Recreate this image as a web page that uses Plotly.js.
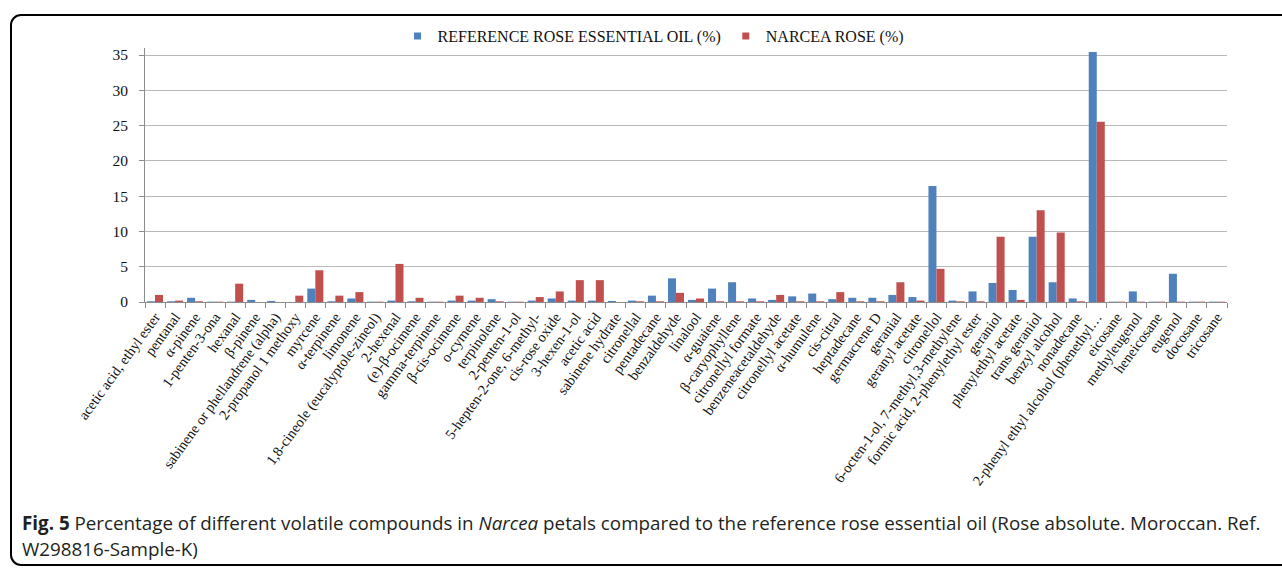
<!DOCTYPE html>
<html>
<head>
<meta charset="utf-8">
<script src="https://cdn.plot.ly/plotly-3.0.1.min.js"></script>
<style>
  html, body { margin: 0; padding: 0; background: #ffffff; overflow: hidden; }
  #frame { position: absolute; left: 10px; top: 14px; width: 1300px; height: 552px;
           border: 2px solid #000; border-radius: 11px; box-sizing: border-box; }
  #chart { position: absolute; left: 0; top: 0; width: 1282px; height: 569px; }
</style>
</head>
<body>
<div id="frame"></div>
<div id="chart"></div>
<script>
const categories = [
  "acetic acid, ethyl ester", "pentanal", "α-pinene", "1-penten-3-ona", "hexanal",
  "β-pinene", "sabinene or phellandrene (alpha)", "2-propanol 1 methoxy", "myrcene", "α-terpinene",
  "limonene", "1,8-cineole (eucalyptole-zineol)", "2-hexenal", "(e)-β-ocimene", "gamma-terpinene",
  "β-cis-ocimene", "o-cymene", "terpinolene", "2-penten-1-ol", "5-hepten-2-one, 6-methyl-",
  "cis-rose oxide", "3-hexen-1-ol", "acetic acid", "sabinene hydrate", "citronellal",
  "pentadecane", "benzaldehyde", "linalool", "α-guaiene", "β-caryophyllene",
  "citronellyl formate", "benzeneacetaldehyde", "citronellyl acetate", "α-humulene", "cis-citral",
  "heptadecane", "germacrene D", "geranial", "geranyl acetate", "citronellol",
  "6-octen-1-ol, 7-methyl,3-methylene", "formic acid, 2-phenylethyl ester", "geraniol", "phenylethyl acetate", "trans geraniol",
  "benzyl alcohol", "nonadecane", "2-phenyl ethyl alcohol (phenethyl…", "eicosane", "methyleugenol",
  "heneicosane", "eugenol", "docosane", "tricosane"
];
const referenceOil = [
  0.1, 0.1, 0.6, 0.05, 0.05,
  0.3, 0.15, 0, 1.9, 0.1,
  0.5, 0.05, 0.2, 0.1, 0.05,
  0.2, 0.2, 0.4, 0.05, 0.2,
  0.5, 0.2, 0.2, 0.15, 0.2,
  0.9, 3.35, 0.3, 1.9, 2.8,
  0.5, 0.3, 0.8, 1.2, 0.4,
  0.6, 0.6, 1.0, 0.7, 16.45,
  0.2, 1.5, 2.7, 1.7, 9.25,
  2.8, 0.5, 35.45, 0.05, 1.5,
  0.05, 4.0, 0.05, 0.05
];
const narceaRose = [
  1.0, 0.2, 0.1, 0.05, 2.6,
  0, 0, 0.9, 4.5, 0.9,
  1.4, 0.05, 5.4, 0.6, 0.05,
  0.9, 0.6, 0.1, 0.05, 0.7,
  1.5, 3.1, 3.1, 0, 0.1,
  0.1, 1.3, 0.5, 0.1, 0.1,
  0.1, 1.0, 0.1, 0.1, 1.4,
  0.1, 0.1, 2.8, 0.2, 4.7,
  0.1, 0.1, 9.25, 0.3, 13.0,
  9.85, 0.1, 25.55, 0.05, 0.05,
  0.05, 0.05, 0.05, 0.05
];
const seriesNames = ["REFERENCE ROSE ESSENTIAL OIL (%)", "NARCEA ROSE (%)"];
const seriesColors = ["#4F81BD", "#C0504D"];
const yTicks = [0, 5, 10, 15, 20, 25, 30, 35];

const serif = "Liberation Serif, Times New Roman, serif";
const captionFont = "Open Sans, sans-serif";

const traces = [
  { type: "bar", name: seriesNames[0], x: categories, y: referenceOil,
    marker: { color: seriesColors[0] }, showlegend: false },
  { type: "bar", name: seriesNames[1], x: categories, y: narceaRose,
    marker: { color: seriesColors[1] }, showlegend: false },
  // legend-only entries with small square swatches
  { type: "scatter", mode: "markers", name: seriesNames[0], x: [null], y: [null],
    marker: { symbol: "square", size: 7, color: seriesColors[0] }, showlegend: true },
  { type: "scatter", mode: "markers", name: seriesNames[1], x: [null], y: [null],
    marker: { symbol: "square", size: 7, color: seriesColors[1] }, showlegend: true }
];

const layout = {
  width: 1282, height: 569,
  paper_bgcolor: "rgba(0,0,0,0)", plot_bgcolor: "rgba(0,0,0,0)",
  margin: { l: 145, r: 55, t: 48, b: 267, pad: 0 },
  barmode: "group", bargap: 0.2, bargroupgap: 0,
  showlegend: true,
  legend: {
    orientation: "h", x: 0.47, xanchor: "center", y: 1.047, yanchor: "middle",
    font: { family: serif, size: 16, color: "#111" },
    itemwidth: 30, tracegroupgap: 0, bgcolor: "rgba(0,0,0,0)"
  },
  xaxis: {
    type: "category", tickangle: -54,
    tickfont: { family: serif, size: 14.4, color: "#111" },
    showline: true, linecolor: "#8c8c8c", linewidth: 1,
    ticks: "outside", tickson: "boundaries", ticklen: 5, tickcolor: "#8c8c8c",
    showgrid: false, zeroline: false, fixedrange: true
  },
  yaxis: {
    range: [0, 36], tickvals: yTicks, ticktext: yTicks.map(String),
    tickfont: { family: serif, size: 15.5, color: "#111" },
    showline: true, linecolor: "#8c8c8c", linewidth: 1,
    ticks: "outside", ticklen: 5, tickcolor: "#8c8c8c", ticklabelstandoff: 8,
    showgrid: true, gridcolor: "#b8b8b8", gridwidth: 1,
    zeroline: false, fixedrange: true
  },
  annotations: [
    { xref: "paper", yref: "paper", x: -0.1155, y: -0.872, xanchor: "left", yanchor: "middle",
      showarrow: false, align: "left",
      font: { family: captionFont, size: 18.8, color: "#231f20" },
      text: "<b>Fig. 5</b> Percentage of different volatile compounds in <i>Narcea</i> petals compared to the reference rose essential oil (Rose absolute. Moroccan. Ref." },
    { xref: "paper", yref: "paper", x: -0.1155, y: -0.971, xanchor: "left", yanchor: "middle",
      showarrow: false, align: "left",
      font: { family: captionFont, size: 18.8, color: "#231f20" },
      text: "W298816-Sample-K)" }
  ]
};

Plotly.newPlot("chart", traces, layout, { displayModeBar: false, staticPlot: true });
</script>
</body>
</html>
